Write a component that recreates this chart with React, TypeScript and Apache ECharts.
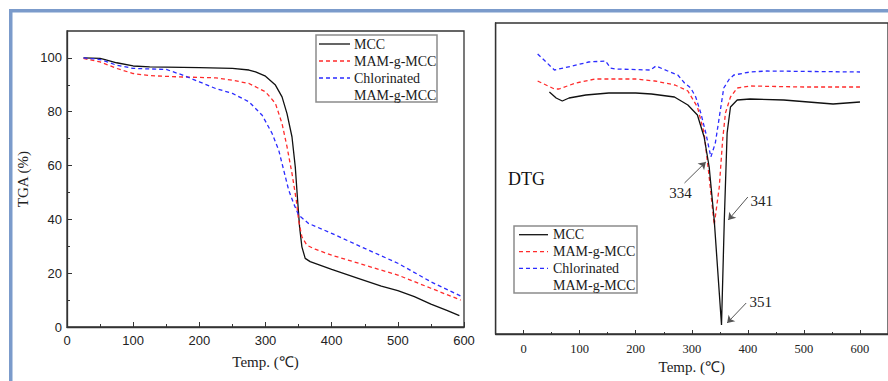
import React, { useEffect, useRef } from "react";
import * as echarts from "echarts";

// ---------- TGA data (left panel) ----------
const tgaMccT = [25, 50, 57.5, 75, 100, 125, 200, 250, 275, 285, 300, 315, 325, 332.5, 340, 345, 348.5, 351.5, 355, 360, 367.5, 400, 440, 475, 500, 525, 550, 575, 593];
const tgaMcc = [100, 99.8, 99.4, 98.2, 97.0, 96.7, 96.4, 96.1, 95.5, 94.8, 93.2, 89.9, 85.5, 79.3, 70.7, 59.5, 47.2, 37.2, 29.8, 25.5, 24.3, 21.4, 18.1, 15.2, 13.5, 11.3, 8.5, 6.1, 4.2];
const tgaMamT = [25, 50, 75, 100, 125, 175, 225, 250, 275, 300, 315, 325, 332.5, 340, 346.5, 350, 355, 362.5, 375, 400, 450, 500, 550, 595];
const tgaMam = [99.8, 98.5, 96.1, 94.2, 93.4, 92.9, 92.6, 91.7, 90.5, 87.4, 83.1, 75.6, 67.0, 57.1, 47.2, 39.7, 33.5, 30.4, 28.9, 26.7, 23.0, 19.3, 14.4, 10.0];
const tgaClT = [25, 50, 75, 100, 150, 175, 200, 225, 250, 275, 295, 310, 320, 327.5, 335, 342.5, 350, 365, 400, 450, 500, 550, 595];
const tgaCl = [100, 99.4, 97.3, 96.1, 95.7, 93.6, 91.1, 88.6, 86.8, 83.7, 78.7, 71.9, 65.7, 58.3, 50.9, 45.9, 41.6, 38.5, 34.8, 29.2, 23.7, 16.8, 11.5];

// ---------- DTG data (right panel, arbitrary units) ----------
const dtgMccT = [46, 58, 69, 81, 111, 152, 200, 228, 269, 293, 310, 322, 331, 340, 353, 358, 363, 369, 381, 404, 464, 552, 600];
const dtgMcc = [242, 236, 233, 236, 239, 241, 241, 240, 237, 229, 219, 197, 167, 114, 9, 114, 201, 227, 234, 235, 234, 230, 232];
const dtgMamT = [25, 55, 63, 93, 128, 200, 234, 270, 293, 310, 322, 331, 340, 349, 355, 360, 369, 381, 404, 500, 600];
const dtgMam = [253, 245, 245, 251, 255, 255, 253, 249, 243, 227, 201, 157, 109, 147, 194, 221, 237, 246, 248, 247, 247];
const dtgClT = [25, 55, 87, 116, 146, 155, 164, 226, 236, 257, 275, 287, 298, 307, 316, 325, 334, 342, 351, 357, 367, 375, 404, 434, 600];
const dtgCl = [280, 264, 268, 272, 273, 266, 265, 264, 268, 263, 259, 251, 246, 237, 221, 201, 177, 191, 224, 246, 255, 259, 262, 263, 262];

// peak annotations: label, text position, arrow start, arrow end
const peakLabels = ["334", "341", "351"];
const peakTextPos = [[280, 141], [425, 133], [423, 32]];
const peakArrowFrom = [[287, 151], [400, 137], [397, 31]];
const peakArrowTo = [[325, 172], [365, 114], [363, 11]];

// tick labels
const tgaXTicks = [0, 100, 200, 300, 400, 500, 600];
const tgaYTicks = [0, 20, 40, 60, 80, 100];
const tgaYMinor = [10, 30, 50, 70, 90];
const dtgXTicks = [0, 100, 200, 300, 400, 500, 600];
const dtgXMinor = [50, 150, 250, 350, 450, 550];

const seriesNames = ["MCC", "MAM-g-MCC", "Chlorinated\nMAM-g-MCC"];

const SERIF = "Liberation Serif, Times New Roman, serif";
const SANS = "Liberation Sans, Arial, sans-serif";
const AXIS = "#333";
const BLACK = "#111";
const RED = "#ff2b2b";
const BLUE = "#2b2bff";
const DASH = [4, 3];

const zip = (xs: number[], ys: number[]) => xs.map((x, i) => [x, ys[i]]);

function legendGraphic(x: number, y: number, w: number, h: number, lineX1: number, lineX2: number, textX: number, rows: number[]) {
  const styles = [
    { stroke: BLACK, lineWidth: 1.3 },
    { stroke: RED, lineWidth: 1.3, lineDash: DASH },
    { stroke: BLUE, lineWidth: 1.3, lineDash: DASH },
  ];
  const els: any[] = [
    { type: "rect", z: 100, shape: { x, y, width: w, height: h }, style: { fill: "#fff", stroke: "#8c8c8c", lineWidth: 1.5 } },
  ];
  styles.forEach((s, i) => {
    els.push({ type: "line", z: 101, shape: { x1: lineX1, y1: rows[i], x2: lineX2, y2: rows[i] }, style: s });
  });
  const texts = ["MCC", "MAM-g-MCC", "Chlorinated", "MAM-g-MCC"];
  texts.forEach((t, i) => {
    els.push({
      type: "text", z: 101, x: textX, y: rows[i],
      style: { text: t, fill: "#1a1a1a", fontFamily: SERIF, fontSize: 14, verticalAlign: "middle", align: "left" },
    });
  });
  return els;
}

export default function App() {
  const ref = useRef<HTMLDivElement>(null);
  useEffect(() => {
    const chart = echarts.init(ref.current!, null, { renderer: "svg" });
    const option: any = {
      animation: false,
      backgroundColor: "#fff",
      grid: [
        { left: 67, top: 31, width: 397, height: 296, show: true, borderColor: AXIS, borderWidth: 1.3, backgroundColor: "transparent" },
        { left: 495.6, top: 23, width: 397, height: 311, show: true, borderColor: AXIS, borderWidth: 1.3, backgroundColor: "transparent" },
      ],
      xAxis: [
        {
          gridIndex: 0, type: "value", min: 0, max: 600, interval: 100,
          axisLine: { show: true, onZero: false, lineStyle: { color: AXIS, width: 1.3 } },
          axisTick: { show: true, inside: true, length: 5, lineStyle: { color: AXIS } },
          minorTick: { show: true, splitNumber: 2, length: 3, lineStyle: { color: AXIS } },
          axisLabel: { show: true, customValues: tgaXTicks, showMinLabel: true, showMaxLabel: true, color: "#222", fontFamily: SANS, fontSize: 13, margin: 7 },
          splitLine: { show: false },
          name: "Temp. (℃)", nameLocation: "middle", nameGap: 27,
          nameTextStyle: { fontFamily: SERIF, fontSize: 15, color: "#222" },
        },
        {
          gridIndex: 1, type: "value", min: -50, max: 650, position: "bottom",
          axisLine: { show: true, onZero: false, lineStyle: { color: AXIS, width: 1.3 } },
          axisTick: { show: true, inside: true, length: 4, customValues: dtgXTicks, lineStyle: { color: AXIS } },
          axisLabel: { show: true, customValues: dtgXTicks, color: "#222", fontFamily: SERIF, fontSize: 12.5, margin: 8 },
          splitLine: { show: false },
          name: "Temp. (℃)", nameLocation: "middle", nameGap: 23,
          nameTextStyle: { fontFamily: SERIF, fontSize: 15, color: "#222" },
        },
        {
          gridIndex: 1, type: "value", min: -50, max: 650, position: "bottom",
          axisLine: { show: false, onZero: false },
          axisTick: { show: true, inside: true, length: 2, customValues: dtgXMinor, lineStyle: { color: AXIS } },
          axisLabel: { show: false },
          splitLine: { show: false },
        },
      ],
      yAxis: [
        {
          gridIndex: 0, type: "value", min: 0, max: 110, position: "left",
          axisLine: { show: true, onZero: false, lineStyle: { color: AXIS, width: 1.3 } },
          axisTick: { show: true, inside: true, length: 5, customValues: tgaYTicks, lineStyle: { color: AXIS } },
          axisLabel: { show: true, customValues: tgaYTicks, color: "#222", fontFamily: SANS, fontSize: 13, margin: 5 },
          splitLine: { show: false },
          name: "TGA (%)", nameLocation: "middle", nameGap: 37, nameRotate: 90,
          nameTextStyle: { fontFamily: SERIF, fontSize: 15, color: "#222" },
        },
        {
          gridIndex: 0, type: "value", min: 0, max: 110, position: "left",
          axisLine: { show: false, onZero: false },
          axisTick: { show: true, inside: true, length: 3, customValues: tgaYMinor, lineStyle: { color: AXIS } },
          axisLabel: { show: false },
          splitLine: { show: false },
        },
        {
          gridIndex: 1, type: "value", min: 0, max: 311, position: "left",
          axisLine: { show: true, onZero: false, lineStyle: { color: AXIS, width: 1.3 } },
          axisTick: { show: false },
          axisLabel: { show: false },
          splitLine: { show: false },
        },
      ],
      series: [
        { name: seriesNames[0], type: "line", xAxisIndex: 0, yAxisIndex: 0, data: zip(tgaMccT, tgaMcc), showSymbol: false, lineStyle: { color: BLACK, width: 1.3 } },
        { name: seriesNames[1], type: "line", xAxisIndex: 0, yAxisIndex: 0, data: zip(tgaMamT, tgaMam), showSymbol: false, lineStyle: { color: RED, width: 1.3, type: DASH } },
        { name: seriesNames[2], type: "line", xAxisIndex: 0, yAxisIndex: 0, data: zip(tgaClT, tgaCl), showSymbol: false, lineStyle: { color: BLUE, width: 1.3, type: DASH } },
        { name: seriesNames[2], type: "line", xAxisIndex: 1, yAxisIndex: 2, data: zip(dtgClT, dtgCl), showSymbol: false, lineStyle: { color: BLUE, width: 1.3, type: DASH } },
        { name: seriesNames[1], type: "line", xAxisIndex: 1, yAxisIndex: 2, data: zip(dtgMamT, dtgMam), showSymbol: false, lineStyle: { color: RED, width: 1.3, type: DASH } },
        {
          name: seriesNames[0], type: "line", xAxisIndex: 1, yAxisIndex: 2, data: zip(dtgMccT, dtgMcc), showSymbol: false,
          lineStyle: { color: BLACK, width: 1.3 },
          markLine: {
            silent: true, symbol: ["none", "arrow"], symbolSize: 7,
            lineStyle: { color: "#555", width: 1, type: "solid" },
            label: { show: false },
            data: peakLabels.map((_, i) => [{ coord: peakArrowFrom[i] }, { coord: peakArrowTo[i] }]),
          },
          markPoint: {
            silent: true, symbol: "circle", symbolSize: 1,
            itemStyle: { color: "rgba(0,0,0,0)" },
            label: { show: true, position: "inside", formatter: "{b}", color: "#222", fontFamily: SERIF, fontSize: 15 },
            data: peakLabels.map((l, i) => ({ name: l, coord: peakTextPos[i] })),
          },
        },
      ],
      graphic: [
        { type: "rect", z: 120, shape: { x: 9, y: 9, width: 879, height: 3.5 }, style: { fill: "#7b9bcb" } },
        { type: "rect", z: 120, shape: { x: 9, y: 9, width: 3.5, height: 372 }, style: { fill: "#7b9bcb" } },
        { type: "text", z: 101, x: 508, y: 179, style: { text: "DTG", fill: "#111", fontFamily: SERIF, fontSize: 18, verticalAlign: "middle", align: "left" } },
        ...legendGraphic(316, 35, 121, 67, 319, 350, 354, [44, 61, 78, 95]),
        ...legendGraphic(514, 226, 123, 67, 519, 548, 553, [234.7, 251.7, 268.3, 285]),
      ],
    };
    chart.setOption(option);
    return () => chart.dispose();
  }, []);
  return <div ref={ref} style={{ width: 888, height: 381, position: "absolute", left: 0, top: 0 }} />;
}
